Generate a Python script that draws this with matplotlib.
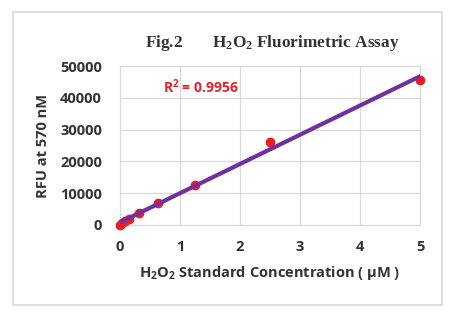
import numpy as np
import matplotlib.pyplot as plt
from matplotlib.patches import Rectangle

conc = [0, 0.039, 0.078, 0.156, 0.3125, 0.625, 1.25, 2.5, 5]
rfu = [0, 600, 1200, 2000, 3800, 7000, 12700, 26000, 45500]
r2_text = r'R$^\mathsf{2}$ = 0.9956'

plt.rcParams['mathtext.fontset'] = 'custom'
plt.rcParams['mathtext.sf'] = 'Open Sans:bold'
plt.rcParams['mathtext.bf'] = 'Liberation Serif:bold'

fig = plt.figure(figsize=(4.55, 3.14), dpi=100)
fig.patches.append(Rectangle((13/455, 1-305/314), 429/455, 293/314, transform=fig.transFigure,
                             fill=False, edgecolor='#d9d9d9', lw=1.2))
ax = fig.add_axes([120/455, 1-225/314, 300/455, 159/314])

slope, icpt = np.polyfit(conc, rfu, 1)
xx = np.array([0, 5])
ax.plot(conc, rfu, 'o', color='#ee1c25', ms=6, zorder=3, clip_on=False)
ax.plot(xx, slope*xx + icpt, color='#7030a0', lw=3, zorder=4)

ax.set_xlim(0, 5)
ax.set_ylim(0, 50000)
ax.set_xticks(range(6))
ax.set_yticks(range(0, 50001, 10000))
ax.grid(True, color='#d9d9d9', lw=0.9)
ax.set_axisbelow(True)
for s in ax.spines.values():
    s.set_color('#d9d9d9')
ax.tick_params(axis='x', length=0, pad=11, labelsize=10.5, labelcolor='#333333')
ax.tick_params(axis='y', length=0, pad=13, labelsize=10.5, labelcolor='#333333')
for t in ax.get_xticklabels() + ax.get_yticklabels():
    t.set_fontweight('bold')
    t.set_family('Open Sans')

ax.set_ylabel('RFU at 570 nM', fontsize=10.5, fontweight='bold', family='Open Sans', color='#333333', labelpad=7)
ax.set_xlabel(r'$\mathsf{H_2O_2}$ Standard Concentration ( µM )', fontsize=10.5, fontweight='bold',
              family='Open Sans', color='#333333', labelpad=7)
ax.text(0.72, 43400, r2_text, color='#e8202a', fontsize=10, fontweight='bold', family='Open Sans', va='center')

fig.text(145/455, 1-43/314, r'Fig.2       $\mathbf{H_2O_2}$ Fluorimetric Assay', fontsize=12.4, fontweight='bold',
         family='Liberation Serif', color='#333333', va='center')
fig.savefig('out.png', dpi=100, facecolor='white')
